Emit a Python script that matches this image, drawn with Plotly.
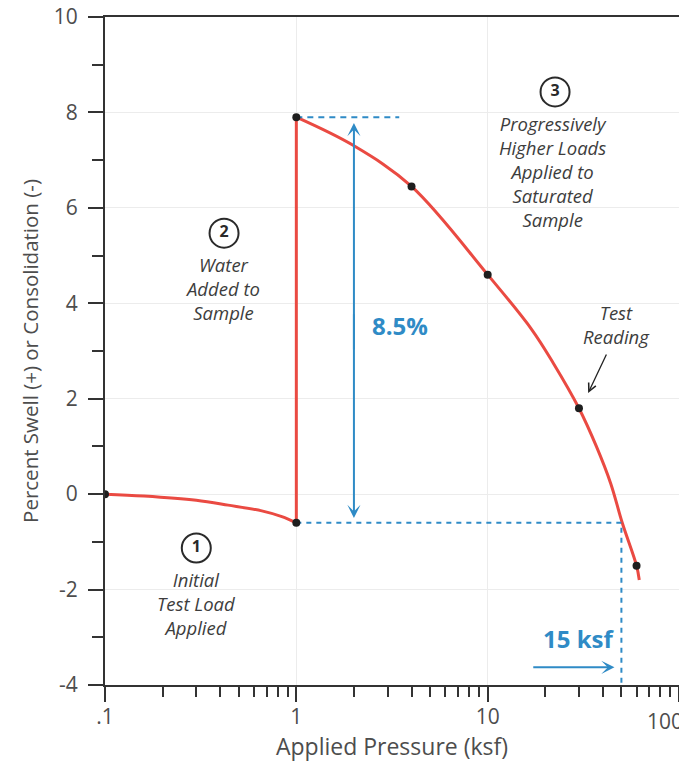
import math
import plotly.graph_objects as go

# ---- data ----
test_x = [0.1, 1, 1, 4, 10, 30, 60]
test_y = [0, -0.6, 7.9, 6.45, 4.6, 1.8, -1.5]

initial_x = [0.1, 0.16, 0.3, 0.44, 0.66, 0.84, 1]
initial_y = [0, -0.04, -0.13, -0.23, -0.35, -0.47, -0.6]

water_x = [1, 1]
water_y = [-0.6, 7.9]

load_x = [1, 2, 4, 10, 17, 22, 30, 37, 44, 50.5, 60, 62]
load_y = [7.9, 7.3, 6.45, 4.6, 3.45, 2.75, 1.8, 1.0, 0.22, -0.6, -1.5, -1.8]

swell_top = 7.9
swell_bottom = -0.6
swell_pct = "8.5%"
pressure_at_bottom = 50
pressure_label = "15 ksf"

x_tickvals = [0.1, 1, 10, 100]
x_ticktext = [".1", "1", "10", ""]
x_minor = [0.2, 0.3, 0.4, 0.5, 0.6, 0.7, 0.8, 0.9,
           2, 3, 4, 5, 6, 7, 8, 9,
           20, 30, 40, 50, 60, 70, 80, 90]
y_tickvals = [-4, -2, 0, 2, 4, 6, 8, 10]
y_ticktext = ["-4", "-2", "0", "2", "4", "6", "8", "10"]

step_x = [0.3, 0.419, 22.5]
step_y = [-1.13, 5.47, 8.43]
step_labels = ["1", "2", "3"]

RED = "#ea4a42"
BLUE = "#2f8bc6"
TXT = "#3d3d3d"
AX = "#4d4d4d"
FONT = "Open Sans"

fig = go.Figure()

fig.add_trace(go.Scatter(x=initial_x, y=initial_y, mode="lines",
                         line=dict(color=RED, width=3, shape="spline"),
                         hoverinfo="skip"))
fig.add_trace(go.Scatter(x=water_x, y=water_y, mode="lines",
                         line=dict(color=RED, width=3), hoverinfo="skip"))
fig.add_trace(go.Scatter(x=load_x, y=load_y, mode="lines",
                         line=dict(color=RED, width=3, shape="spline", smoothing=1),
                         hoverinfo="skip"))

# blue dashed guide lines
fig.add_trace(go.Scatter(x=[1, 3.45], y=[swell_top, swell_top], mode="lines",
                         line=dict(color=BLUE, width=2, dash="6px,5px")))
fig.add_trace(go.Scatter(x=[1, pressure_at_bottom, pressure_at_bottom],
                         y=[swell_bottom, swell_bottom, -4], mode="lines",
                         line=dict(color=BLUE, width=2, dash="5px,5px")))

fig.add_trace(go.Scatter(x=test_x, y=test_y, mode="markers",
                         marker=dict(color="#1e1e1e", size=8)))

# circles around step numbers
fig.add_trace(go.Scatter(x=step_x, y=step_y, mode="markers+text",
                         text=["<b>" + s + "</b>" for s in step_labels],
                         textposition="middle center",
                         textfont=dict(family=FONT, size=16, color="#2a2a2a"),
                         marker=dict(symbol="circle-open", size=29,
                                     color="#2a2a2a", line=dict(width=2, color="#2a2a2a"))))

ann = []


def lx(v):
    return math.log10(v)


# double-headed arrow (8.5%)
ann.append(dict(x=lx(2), y=swell_top - 0.12, ax=lx(2), ay=3.0, xref="x", yref="y",
                axref="x", ayref="y", showarrow=True, arrowhead=3,
                arrowsize=1.1, arrowwidth=2, arrowcolor=BLUE, text=""))
ann.append(dict(x=lx(2), y=swell_bottom + 0.1, ax=lx(2), ay=3.8, xref="x", yref="y",
                axref="x", ayref="y", showarrow=True, arrowhead=3,
                arrowsize=1.1, arrowwidth=2, arrowcolor=BLUE, text=""))
ann.append(dict(x=lx(3.48), y=3.54, xref="x", yref="y", text="<b>" + swell_pct + "</b>",
                showarrow=False, font=dict(family=FONT, size=24, color=BLUE)))

# 15 ksf arrow
ann.append(dict(x=lx(46), y=-3.63, ax=lx(17), ay=-3.63, xref="x", yref="y",
                axref="x", ayref="y", showarrow=True, arrowhead=3,
                arrowsize=1.1, arrowwidth=2, arrowcolor=BLUE, text=""))
ann.append(dict(x=lx(29.7), y=-3.02, xref="x", yref="y", text="<b>" + pressure_label + "</b>",
                showarrow=False, font=dict(family=FONT, size=24, color=BLUE)))


# step descriptions
def note(x, y, txt):
    ann.append(dict(x=lx(x), y=y, xref="x", yref="y", text="<i>" + txt + "</i>",
                    showarrow=False, align="center",
                    font=dict(family=FONT, size=18.5, color=TXT)))


note(0.3, -2.29, "Initial<br>Test Load<br>Applied")
note(0.41, 4.32, "Water<br>Added to<br>Sample")
note(22, 6.77, "Progressively<br>Higher Loads<br>Applied to<br>Saturated<br>Sample")
note(47.4, 3.55, "Test<br>Reading")

# arrow to test reading
ann.append(dict(x=lx(33.5), y=2.12, ax=lx(42.1), ay=2.96, xref="x", yref="y",
                axref="x", ayref="y", showarrow=True, arrowhead=5,
                arrowsize=1.2, arrowwidth=1.3, arrowcolor="#222", text=""))

# "100" tick label (sits at the cut right edge)
ann.append(dict(x=0.9408, y=0, xref="paper", yref="paper", text="100",
                showarrow=False, xanchor="left", yanchor="middle", yshift=-36,
                font=dict(family=FONT, size=21, color=AX)))

fig.update_layout(
    width=679, height=766,
    margin=dict(l=105, r=0, t=17, b=81),
    paper_bgcolor="white", plot_bgcolor="white",
    showlegend=False,
    font=dict(family=FONT, color=AX),
    annotations=ann,
)

fig.update_xaxes(
    type="log", range=[-1, 2],
    tickvals=x_tickvals, ticktext=x_ticktext,
    ticks="outside", ticklen=15, tickwidth=2, tickcolor="#333",
    ticklabelstandoff=-3, ticklabeloverflow="allow",
    tickfont=dict(family=FONT, size=21, color=AX),
    minor=dict(tickvals=x_minor, ticks="outside", ticklen=10, tickwidth=1.5,
               tickcolor="#333", showgrid=False),
    showline=True, linecolor="#333", linewidth=2, mirror=True,
    showgrid=True, gridcolor="#ececec", gridwidth=1,
    zeroline=False, automargin=False,
    title=dict(text="Applied Pressure (ksf)", standoff=5,
               font=dict(family=FONT, size=23, color=AX)),
)
fig.update_yaxes(
    range=[-4, 10], tickvals=y_tickvals, ticktext=y_ticktext,
    ticks="outside", ticklen=15, tickwidth=2, tickcolor="#333",
    ticklabelstandoff=6, ticklabeloverflow="allow",
    tickfont=dict(family=FONT, size=21, color=AX),
    minor=dict(dtick=1, ticks="outside", ticklen=11, tickwidth=1.5,
               tickcolor="#333", showgrid=False),
    showline=True, linecolor="#333", linewidth=2,
    showgrid=True, gridcolor="#ececec", gridwidth=1,
    zeroline=False, automargin=False,
    title=dict(text="Percent Swell (+) or Consolidation (-)", standoff=10,
               font=dict(family=FONT, size=20.5, color=AX)),
)

fig.write_html("out.html",
               config={"displayModeBar": False},
               post_script="document.body.style.margin='0';"
                           "document.body.style.overflow='hidden';")
